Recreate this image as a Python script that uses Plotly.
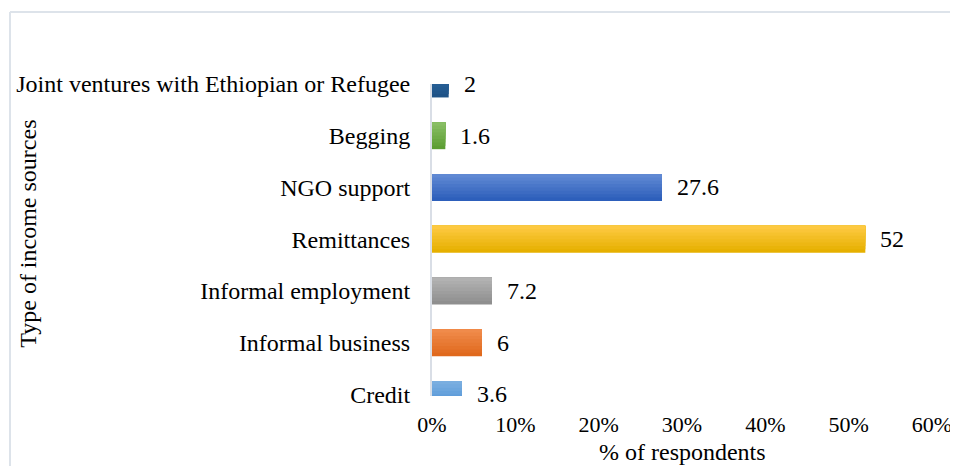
import plotly.graph_objects as go

categories = ["Credit", "Informal business", "Informal employment", "Remittances",
              "NGO support", "Begging", "Joint ventures with Ethiopian or Refugee"]
values = [3.6, 6, 7.2, 52, 27.6, 1.6, 2]
top_colors = ["#7aaee0", "#f08b4b", "#b2b2b2", "#fdc941", "#6089d3", "#88be64", "#2e6ba3"]
bottom_colors = ["#4d91d6", "#e0691d", "#8f8f8f", "#e6b000", "#2d5fbb", "#5c9e33", "#1f5387"]
x_ticks = [0, 10, 20, 30, 40, 50, 60]
x_tick_labels = ["0%", "10%", "20%", "30%", "40%", "50%", "60%"]
x_title = "% of respondents"
y_title = "Type of income sources"

FONT = "Liberation Serif"
W = 0.52
N = 8


def hex2rgb(h):
    h = h.lstrip("#")
    return tuple(int(h[i:i + 2], 16) for i in (0, 2, 4))


def mix(c1, c2, t):
    a, b = hex2rgb(c1), hex2rgb(c2)
    return "rgb(%d,%d,%d)" % tuple(round(a[i] + (b[i] - a[i]) * t) for i in range(3))


fig = go.Figure()
for k in range(N):
    t = k / (N - 1)
    cols = [mix(b, tcol, t) for b, tcol in zip(bottom_colors, top_colors)]
    width_k = W - k * W / N
    fig.add_trace(go.Bar(
        y=categories, x=values, orientation="h",
        width=[width_k] * len(values),
        offset=[-W / 2 + k * W / N] * len(values),
        marker=dict(color=cols, line=dict(width=0)),
        showlegend=False, hoverinfo="skip" if k else "x+y",
    ))

for c, v in zip(categories, values):
    fig.add_annotation(x=v, y=c, text=f"{v:g}", showarrow=False,
                       xanchor="left", yanchor="middle", xshift=13,
                       font=dict(family=FONT, size=24, color="#000000"))

# axis titles
fig.add_annotation(x=0.5, y=-0.18, xref="paper", yref="paper", text=x_title,
                   showarrow=False, xanchor="center", yanchor="middle",
                   font=dict(family=FONT, size=24, color="#000000"))
fig.add_annotation(x=-0.808, y=0.52, xref="paper", yref="paper", text=y_title,
                   showarrow=False, textangle=-90, xanchor="center", yanchor="middle",
                   font=dict(family=FONT, size=24, color="#000000"))

# outer chart border (top and left visible)
fig.add_shape(type="line", xref="paper", yref="paper",
              x0=-0.844, x1=1.1, y0=1.231, y1=1.231,
              line=dict(color="#dde3ea", width=2))
fig.add_shape(type="line", xref="paper", yref="paper",
              x0=-0.844, x1=-0.844, y0=1.231, y1=-0.3,
              line=dict(color="#dde3ea", width=2))

fig.update_layout(
    width=958, height=466,
    margin=dict(l=424, r=34, t=76, b=78, autoexpand=False),
    barmode="overlay",
    plot_bgcolor="white", paper_bgcolor="white",
    font=dict(family=FONT, size=24, color="#000000"),
    xaxis=dict(range=[0, 60], tickvals=x_ticks, ticktext=x_tick_labels,
               showgrid=False, zeroline=False, showline=False, automargin=False,
               ticks="", ticklabelstandoff=13,
               tickfont=dict(family=FONT, size=22, color="#000000")),
    yaxis=dict(type="category", categoryorder="array", categoryarray=categories,
               range=[-0.03, 6.0], showgrid=False, zeroline=False, automargin=False,
               showline=True, linecolor="#d9dee6", linewidth=2,
               ticks="", ticklabelstandoff=15,
               tickfont=dict(family=FONT, size=24, color="#000000")),
)

fig.write_html("out.html")
